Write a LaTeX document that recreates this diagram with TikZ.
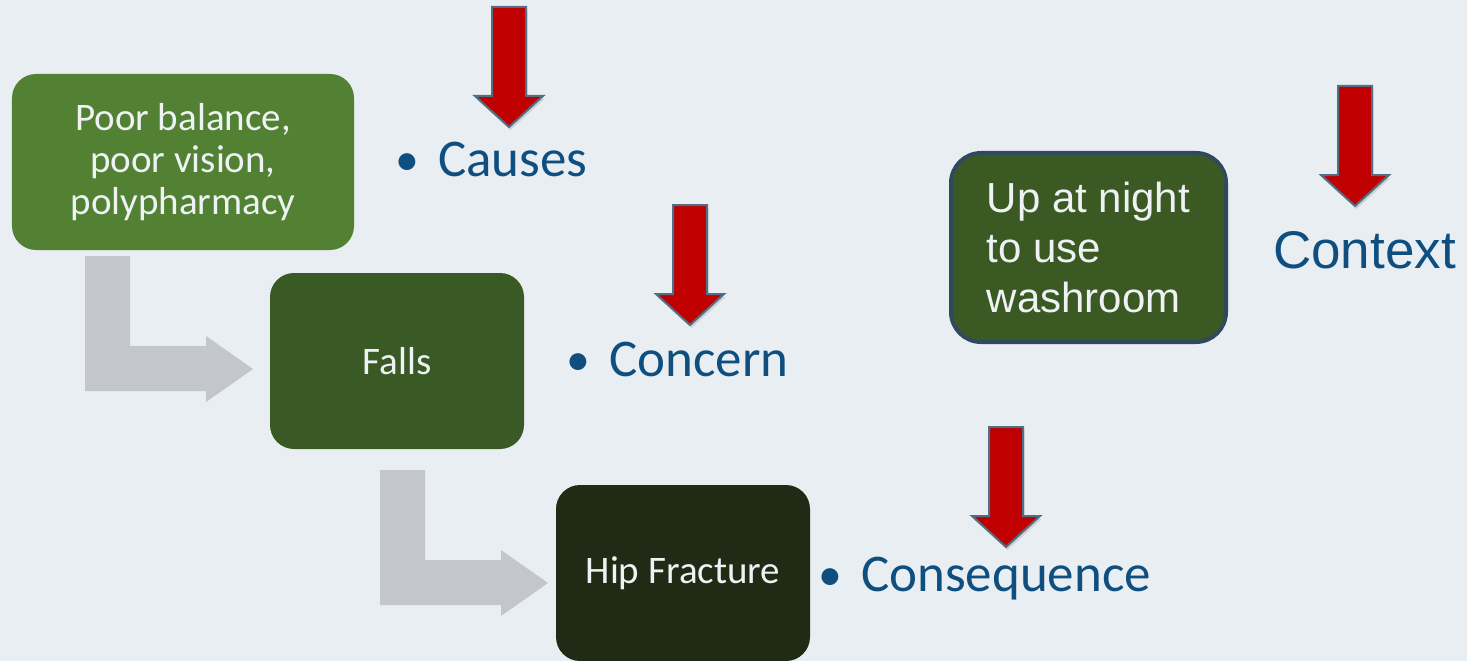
\documentclass[tikz,border=0pt]{standalone}
\usepackage{fontspec}
\setmainfont{Carlito}
\newfontfamily\arialfont{Liberation Sans}
\usetikzlibrary{shadows}

\definecolor{bg}{HTML}{E9EEF2}
\definecolor{causegreen}{HTML}{538133}
\definecolor{fallgreen}{HTML}{3A5A25}
\definecolor{hipgreen}{HTML}{1F2B14}
\definecolor{ctxgreen}{HTML}{3A5923}
\definecolor{ctxborder}{HTML}{2F4A5C}
\definecolor{boxtext}{HTML}{EEF2F5}
\definecolor{labelblue}{HTML}{0F4F80}
\definecolor{bendgray}{HTML}{C3C7CC}
\definecolor{arrowred}{HTML}{C00000}
\definecolor{arrowedge}{HTML}{526E84}

\tikzset{
  stepbox/.style={rectangle, rounded corners=24bp, text=boxtext, align=center,
    font=\fontsize{39bp}{42bp}\selectfont, inner sep=0pt,
    minimum width=254bp, minimum height=176bp},
  ctxbox/.style={rectangle, rounded corners=30bp, fill=ctxgreen, draw=ctxborder,
    line width=4bp, text=boxtext, align=left,
    font=\arialfont\fontsize{42bp}{50bp}\selectfont, inner sep=0pt,
    minimum width=275bp, minimum height=189bp},
  bulletlabel/.style={anchor=base west, inner sep=0pt, text=labelblue,
    font=\fontsize{53bp}{60bp}\selectfont},
  bendarrow/.style={fill=bendgray, draw=none},
  redarrowstyle/.style={fill=arrowred, draw=arrowedge, line width=2bp,
    line join=miter, drop shadow={opacity=0.25, shadow xshift=1.5bp, shadow yshift=-3bp}},
  redarrow/.pic={
    \path[redarrowstyle] (-17,0) -- (17,0) -- (17,89) -- (34,89) -- (0,120)
      -- (-34,89) -- (-17,89) -- cycle;
  }
}

\newcommand{\bulletitem}[1]{\makebox[43bp][l]{\raisebox{1bp}{\scalebox{0.9}{\textbullet}}}#1}

\begin{document}
\begin{tikzpicture}[x=1bp, y=-1bp]
  % canvas
  \fill[bg] (0,0) rectangle (1467,661);
  \useasboundingbox (0,0) rectangle (1467,661);

  % bent connectors between the stages
  \fill[bendarrow] (85,256) -- (130,256) -- (130,346) -- (206,346) -- (206,336)
    -- (253,369) -- (206,402) -- (206,391) -- (85,391) -- cycle;
  \fill[bendarrow] (380,470) -- (425,470) -- (425,560) -- (501,560) -- (501,550)
    -- (548,583) -- (501,616) -- (501,605) -- (380,605) -- cycle;

  % stage boxes
  \node[stepbox, fill=causegreen, minimum width=342bp] (causes) at (183,162)
    {Poor balance,\\poor vision,\\polypharmacy};
  \node[stepbox, fill=fallgreen] (falls) at (397,361) {Falls};
  \node[stepbox, fill=hipgreen] (hip) at (683,573) {Hip Fracture};
  \node[ctxbox] (ctx) at (1088.5,247.5) {Up at night\\to use\\washroom};

  % labels
  \node[bulletlabel] (lcauses) at (395,176) {\bulletitem{Causes}};
  \node[bulletlabel] (lconcern) at (566,376) {\bulletitem{Concern}};
  \node[bulletlabel] (lconseq) at (818,591) {\bulletitem{Consequence}};
  \node[bulletlabel, font=\arialfont\fontsize{53bp}{60bp}\selectfont] (lctx) at (1273,268) {Context};

  % red down arrows
  \pic (a1) at (509,7) {redarrow};
  \pic (a2) at (690,205) {redarrow};
  \pic (a3) at (1355,86) {redarrow};
  \pic (a4) at (1006,427) {redarrow};
\end{tikzpicture}
\end{document}
